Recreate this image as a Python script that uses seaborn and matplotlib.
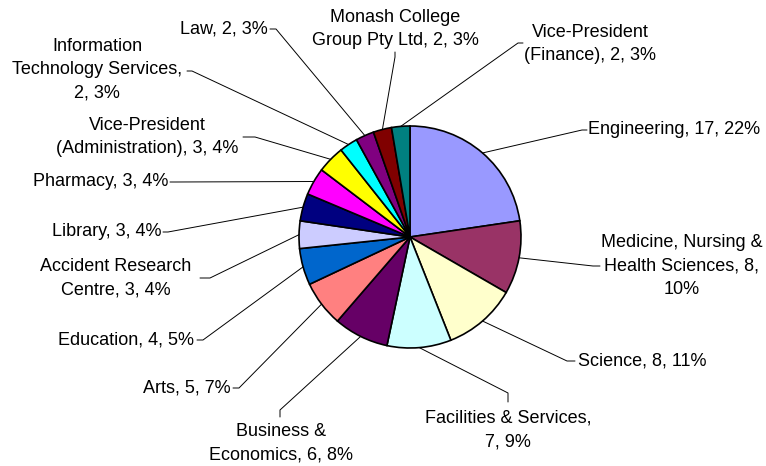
import matplotlib
matplotlib.use("Agg")
import matplotlib.pyplot as plt
import seaborn as sns
import numpy as np

# data
departments = ["Engineering", "Medicine, Nursing & Health Sciences", "Science",
               "Facilities & Services", "Business & Economics", "Arts", "Education",
               "Accident Research Centre", "Library", "Pharmacy",
               "Vice-President (Administration)", "Information Technology Services",
               "Law", "Monash College Group Pty Ltd", "Vice-President (Finance)"]
counts = [17, 8, 8, 7, 6, 5, 4, 3, 3, 3, 3, 2, 2, 2, 2]
percents = [22, 10, 11, 9, 8, 7, 5, 4, 4, 4, 4, 3, 3, 3, 3]
labels = ["Engineering, 17, 22%",
          "Medicine, Nursing &\nHealth Sciences, 8,\n10%",
          "Science, 8, 11%",
          "Facilities & Services,\n7, 9%",
          "Business &\nEconomics, 6, 8%",
          "Arts, 5, 7%",
          "Education, 4, 5%",
          "Accident Research\nCentre, 3, 4%",
          "Library, 3, 4%",
          "Pharmacy, 3, 4%",
          "Vice-President\n(Administration), 3, 4%",
          "Information\nTechnology Services,\n2, 3%",
          "Law, 2, 3%",
          "Monash College\nGroup Pty Ltd, 2, 3%",
          "Vice-President\n(Finance), 2, 3%"]
colors = ["#9999FF", "#993366", "#FFFFCC", "#CCFFFF", "#660066", "#FF8080",
          "#0066CC", "#CCCCFF", "#000080", "#FF00FF", "#FFFF00", "#00FFFF",
          "#800080", "#800000", "#008080"]

# label placement in pixel coords: (text x, text y, ha, elbow, line end)
H = 466
layout = [
    (588, 130, "left", (582, 130), (587, 130)),
    (682, 266, "center", (593, 266), (600, 266)),
    (578, 361, "left", (567, 361), (575, 361)),
    (508, 430, "center", (508, 393), (508, 402)),
    (281, 443, "center", (280, 410), (280, 417)),
    (231, 388, "right", (239, 388), (233, 388)),
    (194, 340, "right", (203, 340), (197, 340)),
    (116, 278, "center", (210, 278), (200, 278)),
    (161, 232, "right", (168, 232), (163, 232)),
    (168, 182, "right", (175, 182), (170, 182)),
    (147, 137, "center", (255, 137), (243, 137)),
    (97, 70, "center", (192, 71), (187, 71)),
    (268, 29, "right", (276, 29), (270, 29)),
    (395, 29, "center", (395, 57), (395, 52)),
    (590, 44, "center", (518, 43), (523, 43)),
]

sns.set_theme(style="white")
plt.rcParams["font.family"] = ["Liberation Sans", "DejaVu Sans"]

fig = plt.figure(figsize=(7.66, 4.66), dpi=100)
ax = fig.add_axes([0, 0, 1, 1])

cx, cy, r = 410, H - 237, 111
wedges, _ = ax.pie(counts, colors=colors, startangle=90, counterclock=False,
                   center=(cx, cy), radius=r,
                   wedgeprops=dict(edgecolor="black", linewidth=1.2))

for w, lab, (tx, ty, ha, elbow, end) in zip(wedges, labels, layout):
    mid = np.deg2rad((w.theta1 + w.theta2) / 2)
    px, py = cx + r * np.cos(mid), cy + r * np.sin(mid)
    ax.plot([px, elbow[0], end[0]], [py, H - elbow[1], H - end[1]],
            color="black", lw=0.7)
    ax.text(tx, H - ty, lab, ha=ha, va="center", multialignment="center",
            fontsize=13, color="black", linespacing=1.5)

ax.set_xlim(0, 766)
ax.set_ylim(0, H)
ax.set_aspect("equal")
ax.axis("off")

fig.savefig("out.png", dpi=100, facecolor="white")
